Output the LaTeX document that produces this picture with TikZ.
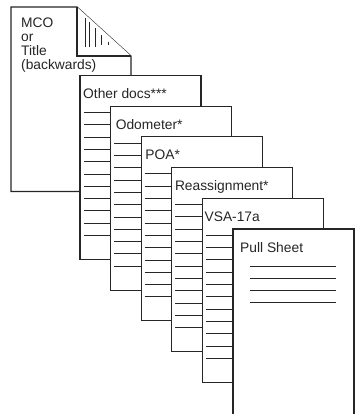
\documentclass[tikz,border=0pt]{standalone}
\usepackage{fontspec}
\setmainfont{Liberation Sans}
\begin{document}
\begin{tikzpicture}[x=1pt,y=-1pt,
  page/.style={draw=black!85, line width=1.1pt, fill=white, line join=miter},
  rule/.style={draw=black!85, line width=1pt},
  lbl/.style={anchor=base west, inner sep=0pt, font=\fontsize{13.8}{16}\selectfont, text=black!85}]
\useasboundingbox (0,0) rectangle (357,414);
% MCO page with folded corner
\draw[page] (11,7) -- (77,7) -- (131,56) -- (131,191.5) -- (11,191.5) -- cycle;
\draw[page] (77,7) -- (77,56) -- (131,56);
\foreach \x/\a/\b in {85/18/47, 89.5/22/47, 95/28/47, 101.5/35/45, 108.5/42/45}
  \draw[rule] (\x,\a) -- (\x,\b);
\node[lbl] (mco) at (21,28) {MCO};
\node[lbl] (or) at (21,42) {or};
\node[lbl] (title) at (21,56) {Title};
\node[lbl] (back) at (21,70) {(backwards)};
% stacked pages
\foreach \i/\t/\dx in {0/Other docs***/3, 1/Odometer*/5, 2/POA*/4, 3/Reassignment*/3, 4/VSA-17a/2} {
  \pgfmathsetmacro\L{80+30.6*\i}
  \pgfmathsetmacro\T{75.5+30.7*\i}
  \draw[page] (\L,\T) rectangle ++(121,184);
  \node[lbl] (h\i) at (\L+\dx,\T+23) {\t};
  \foreach \k in {0,...,10} \draw[rule] (\L+3.5,\T+37+12.3*\k) -- ++(40,0);
}
% Pull Sheet
\draw[page] (233,229) rectangle (354,420);
\node[lbl] (pull) at (240,252) {Pull Sheet};
\foreach \k in {0,...,3} \draw[rule] (250,266+12.3*\k) -- (335.5,266+12.3*\k);
\end{tikzpicture}
\end{document}
